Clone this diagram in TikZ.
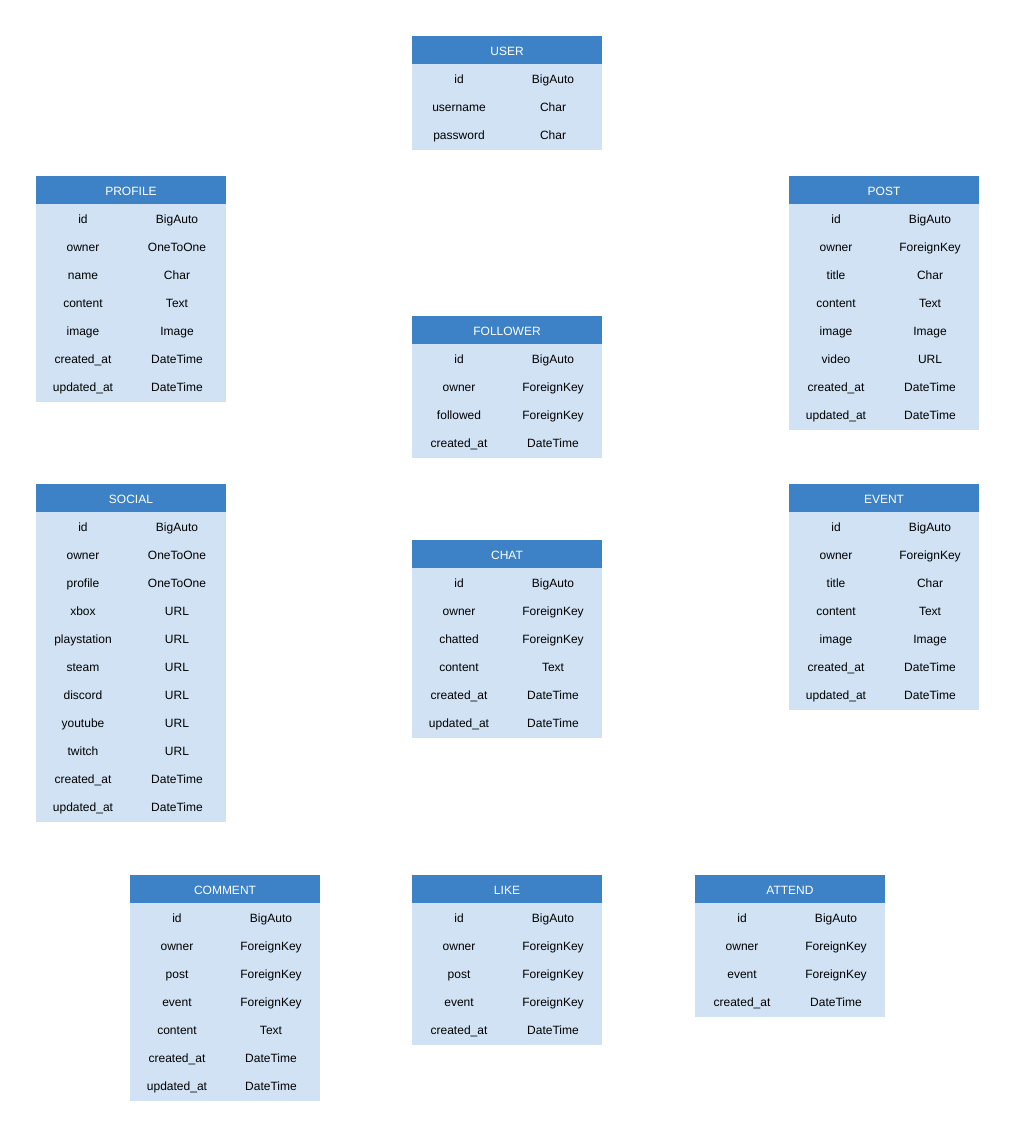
\documentclass[tikz,border=0pt]{standalone}
\usepackage{fontspec}
\setmainfont{Liberation Sans}
\definecolor{hdrblue}{HTML}{3D82C6}
\definecolor{bodyblue}{HTML}{D0E2F3}
\newcommand{\tabfont}{\fontsize{12}{14}\selectfont}
\tikzset{
  tablehead/.style={fill=hdrblue, minimum width=190pt,
    minimum height=28pt, inner sep=0pt, anchor=north west},
  tablebody/.style={fill=bodyblue, minimum width=190pt, inner sep=0pt, anchor=north west},
  headtxt/.style={font=\tabfont, text=white, inner sep=0pt, anchor=center, text height=8.6pt, text depth=0pt},
  cell/.style={font=\tabfont, text=black, inner sep=0pt, anchor=center, text height=8.6pt, text depth=0pt}
}
% \ertable{id}{title}{x}{y}{rows}{field/type list}
\newcommand{\ertable}[6]{%
  \node[tablehead] (#1-head) at (#3,#4) {};
  \node[headtxt] (#1-title) at (#3+95,#4+15.5) {#2};
  \node[tablebody, minimum height={(#5*28+2)*1pt}] (#1-body) at (#3,#4+28) {};
  \foreach \f/\t [count=\i] in {#6} {
    \node[cell] (#1-f\i) at (#3+47,#4+28*\i+15.5) {\f};
    \node[cell] (#1-t\i) at (#3+141,#4+28*\i+15.5) {\t};
  }%
}
\begin{document}
\begin{tikzpicture}[x=1pt,y=-1pt]
\useasboundingbox (0,0) rectangle (1015,1137);
\ertable{user}{USER}{412}{36}{3}{id/BigAuto, username/Char, password/Char}
\ertable{profile}{PROFILE}{36}{176}{7}{id/BigAuto, owner/OneToOne, name/Char, content/Text, image/Image, created\_at/DateTime, updated\_at/DateTime}
\ertable{post}{POST}{789}{176}{8}{id/BigAuto, owner/ForeignKey, title/Char, content/Text, image/Image, video/URL, created\_at/DateTime, updated\_at/DateTime}
\ertable{follower}{FOLLOWER}{412}{316}{4}{id/BigAuto, owner/ForeignKey, followed/ForeignKey, created\_at/DateTime}
\ertable{social}{SOCIAL}{36}{484}{11}{id/BigAuto, owner/OneToOne, profile/OneToOne, xbox/URL, playstation/URL, steam/URL, discord/URL, youtube/URL, twitch/URL, created\_at/DateTime, updated\_at/DateTime}
\ertable{chat}{CHAT}{412}{540}{6}{id/BigAuto, owner/ForeignKey, chatted/ForeignKey, content/Text, created\_at/DateTime, updated\_at/DateTime}
\ertable{event}{EVENT}{789}{484}{7}{id/BigAuto, owner/ForeignKey, title/Char, content/Text, image/Image, created\_at/DateTime, updated\_at/DateTime}
\ertable{comment}{COMMENT}{130}{875}{7}{id/BigAuto, owner/ForeignKey, post/ForeignKey, event/ForeignKey, content/Text, created\_at/DateTime, updated\_at/DateTime}
\ertable{like}{LIKE}{412}{875}{5}{id/BigAuto, owner/ForeignKey, post/ForeignKey, event/ForeignKey, created\_at/DateTime}
\ertable{attend}{ATTEND}{695}{875}{4}{id/BigAuto, owner/ForeignKey, event/ForeignKey, created\_at/DateTime}
\end{tikzpicture}
\end{document}
